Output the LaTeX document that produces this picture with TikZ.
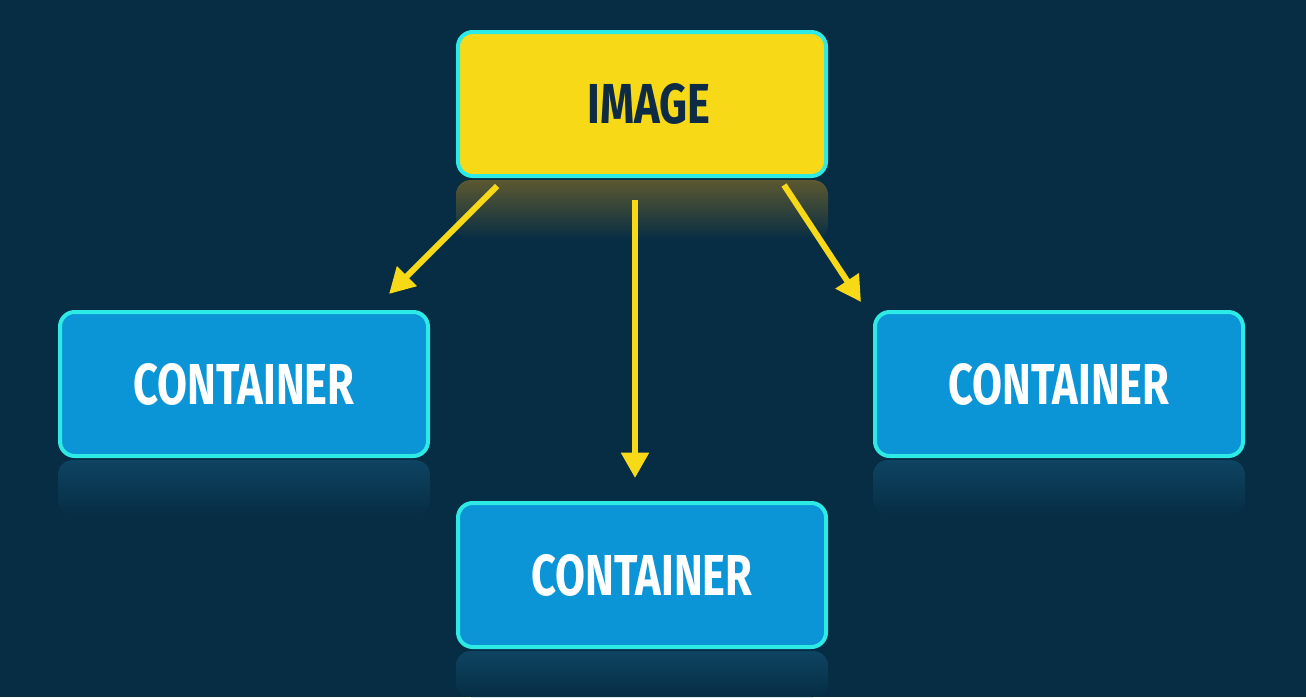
\documentclass[tikz,border=0pt]{standalone}
\usepackage{fontspec}
\setmainfont{Fira Sans}
\usetikzlibrary{arrows.meta}
\definecolor{bg}{RGB}{6,45,68}
\definecolor{imgfill}{RGB}{248,217,23}
\definecolor{edge}{RGB}{46,234,228}
\definecolor{contfill}{RGB}{12,149,214}
\definecolor{darktext}{RGB}{13,43,69}
\definecolor{arrowcol}{RGB}{248,217,23}
\definecolor{imgrefl}{RGB}{92,88,48}
\definecolor{contrefl}{RGB}{14,68,98}
\begin{document}
\begin{tikzpicture}[x=0.75pt,y=-0.75pt,
  box/.style={draw=edge, line width=3pt, rounded corners=11pt,
    minimum width=276pt, minimum height=108pt, inner sep=0pt},
  imgbox/.style={box, fill=imgfill, text=darktext},
  contbox/.style={box, fill=contfill, text=white},
  link/.style={draw=arrowcol, line width=4.5pt, -{Triangle[length=19pt,width=20pt]}},
  refl/.style={rounded corners=11pt}]
\fill[bg] (0,0) rectangle (1306,697);
\useasboundingbox (0,0) rectangle (1306,697);
% reflections
\shade[refl, top color=imgrefl, bottom color=bg] (456,180) rectangle (828,240);
\shade[refl, top color=contrefl, bottom color=bg] (58,460) rectangle (430,515);
\shade[refl, top color=contrefl, bottom color=bg] (873,460) rectangle (1245,515);
\shade[refl, top color=contrefl, bottom color=bg] (456,651) rectangle (828,697);
% nodes
\node[imgbox] (img) at (642,104) {\hspace{10.5pt}\raisebox{-2pt}{\resizebox{92.25pt}{30pt}{\bfseries IMAGE}}};
\node[contbox] (cl) at (244,384) {\resizebox{165.75pt}{30.75pt}{\bfseries CONTAINER}};
\node[contbox] (cr) at (1059,384) {\resizebox{165.75pt}{30.75pt}{\bfseries CONTAINER}};
\node[contbox] (cb) at (642,575) {\resizebox{165.75pt}{30.75pt}{\bfseries CONTAINER}};
% arrow end points
\coordinate (s1) at (497,186);
\coordinate (e1) at (389,294);
\coordinate (s2) at (635,200);
\coordinate (e2) at (635,478);
\coordinate (s3) at (784,185);
\coordinate (e3) at (861,302);
\draw[link] (s1) -- (e1);
\draw[link] (s2) -- (e2);
\draw[link] (s3) -- (e3);
\end{tikzpicture}
\end{document}
